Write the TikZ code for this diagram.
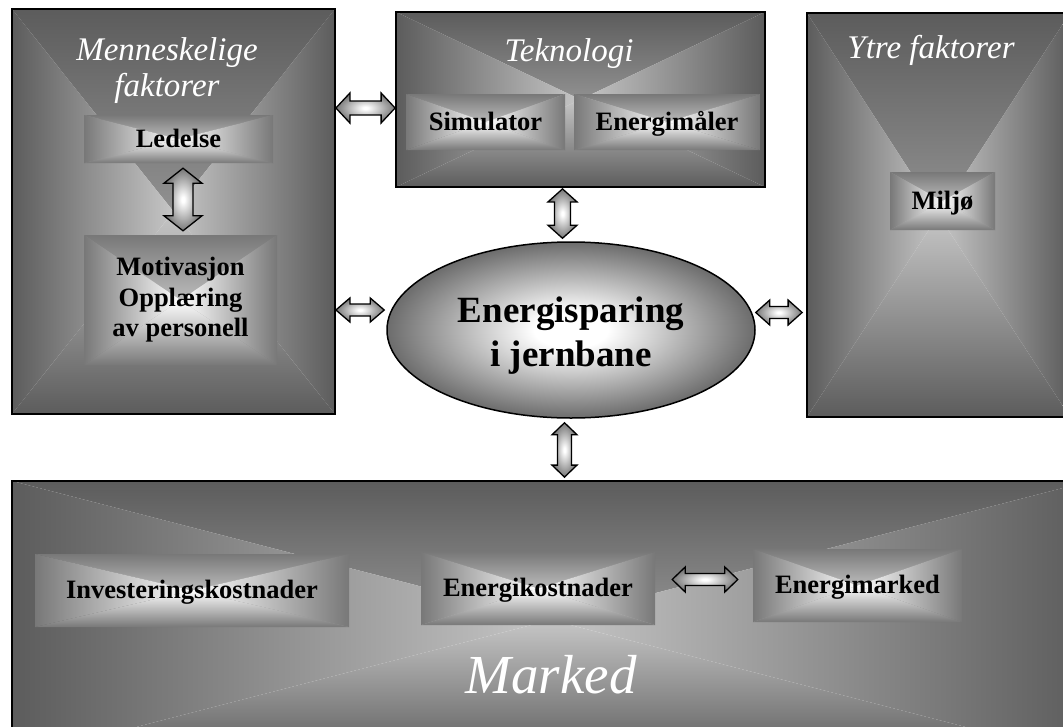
\documentclass[tikz,border=0pt]{standalone}
\usepackage{fontspec}
\setmainfont{Liberation Serif}
\usetikzlibrary{calc,shapes.geometric}

\definecolor{bigdark}{RGB}{92,92,92}
\definecolor{biglight}{RGB}{198,198,198}
\definecolor{smalldark}{RGB}{120,120,120}
\definecolor{ellgray}{RGB}{108,108,108}
\definecolor{arrowgray}{RGB}{118,118,118}

% soft radial fills for the central ellipse and the block arrows
% (the path's bounding box spans the inner 25bp radius of a shading)
\pgfdeclareradialshading{ellshade}{\pgfpoint{0bp}{0bp}}{color(0bp)=(white); color(5bp)=(white); color(25bp)=(ellgray); color(50bp)=(ellgray)}
\pgfdeclareradialshading{arrowshade}{\pgfpoint{0bp}{0bp}}{color(0bp)=(white); color(2bp)=(white); color(25bp)=(arrowgray); color(50bp)=(arrowgray)}

% two-headed block arrow from #1 to #2:
% #3 head length, #4 half width of the heads, #5 half width of the shaft
\newcommand{\dblarrow}[5]{%
  \path[arrowbody] (#1)
    -- ($(#1)!#3!(#2)!#4!90:(#2)$)
    -- ($(#1)!#3!(#2)!#5!90:(#2)$)
    -- ($(#2)!#3!(#1)!#5!-90:(#1)$)
    -- ($(#2)!#3!(#1)!#4!-90:(#1)$)
    -- (#2)
    -- ($(#2)!#3!(#1)!#4!90:(#1)$)
    -- ($(#2)!#3!(#1)!#5!90:(#1)$)
    -- ($(#1)!#3!(#2)!#5!-90:(#2)$)
    -- ($(#1)!#3!(#2)!#4!-90:(#2)$)
    -- cycle;}

\tikzset{
  % rectangle filled with a gradient running from the edges to the centre
  fromcenter/.style 2 args={path picture={
    \shade[top color=#1, bottom color=#2]
      (path picture bounding box.north west) -- (path picture bounding box.north east)
      -- (path picture bounding box.center) -- cycle;
    \shade[top color=#2, bottom color=#1]
      (path picture bounding box.south west) -- (path picture bounding box.south east)
      -- (path picture bounding box.center) -- cycle;
    \shade[left color=#1, right color=#2]
      (path picture bounding box.north west) -- (path picture bounding box.south west)
      -- (path picture bounding box.center) -- cycle;
    \shade[left color=#2, right color=#1]
      (path picture bounding box.north east) -- (path picture bounding box.south east)
      -- (path picture bounding box.center) -- cycle;
  }},
  bigbox/.style={draw=black, line width=1.8pt, inner sep=0pt, fromcenter={bigdark}{biglight}},
  smallbox/.style={inner sep=0pt, fromcenter={smalldark}{white}, align=center,
    font=\bfseries\fontsize{26.5}{30.5}\selectfont},
  oneline/.style={text height=18pt, text depth=2pt},
  boxtitle/.style={text=white, inner sep=0pt, align=center, font=\itshape\fontsize{33}{36}\selectfont},
  arrowbody/.style={draw=black, line width=1.3pt, line join=miter, shade, shading=arrowshade},
}

\begin{document}
\begin{tikzpicture}[x=1pt, y=-1pt]
\clip (0,0) rectangle (1063,726);

% the four outer areas
\node[bigbox, minimum width=323pt, minimum height=405pt] (hum) at (173.5,211.5) {};
\node[bigbox, minimum width=369pt, minimum height=175pt] (tek) at (580.5,99.5) {};
\node[bigbox, minimum width=263pt, minimum height=404pt] (ytre) at (938.5,215) {};
\node[bigbox, minimum width=1078pt, minimum height=278pt] (mkt) at (551,620) {};

% area titles
\node[boxtitle] (humt) at (167,71) {Menneskelige\\faktorer};
\node[boxtitle, anchor=base] (tekt) at (569,61) {Teknologi};
\node[boxtitle, anchor=base] (ytret) at (931,58) {Ytre faktorer};
\node[boxtitle, anchor=base, font=\itshape\fontsize{55}{60}\selectfont] (mktt) at (551,693) {Marked};

% factors inside the areas
\node[smallbox, oneline, minimum width=189pt, minimum height=48pt] (led) at (178.5,139) {Ledelse};
\node[smallbox, minimum width=193pt, minimum height=130pt] (mot) at (180.5,300) {Motivasjon\\Opplæring\\av personell};
\node[smallbox, oneline, minimum width=159pt, minimum height=56pt] (sim) at (485.5,122) {Simulator};
\node[smallbox, oneline, minimum width=186pt, minimum height=56pt] (emal) at (667,122) {Energimåler};
\node[smallbox, oneline, minimum width=105pt, minimum height=58pt] (milj) at (942.5,201) {Miljø};
\node[smallbox, oneline, minimum width=314pt, minimum height=73pt] (inv) at (192,590.5) {Investeringskostnader};
\node[smallbox, oneline, minimum width=234pt, minimum height=73pt] (ekost) at (538,588.5) {Energikostnader};
\node[smallbox, oneline, minimum width=209pt, minimum height=73pt] (emkt) at (857.5,585.5) {Energimarked};

% central topic
\node[ellipse, draw=black, line width=1.5pt, shade, shading=ellshade, inner sep=0pt,
      minimum width=368pt, minimum height=176pt] (ell) at (571,330) {};
\node[align=center, inner sep=0pt, font=\bfseries\fontsize{37}{44}\selectfont]
      (ellt) at ([yshift=-6pt]ell.center) {Energisparing\\i jernbane};

% arrow end points
\path ([yshift=-8.5pt]tek.west) coordinate (a2);
\path (hum.east |- a2) coordinate (a1);
\path (led.south) ++(4.5,5) coordinate (b1);
\path (b1 |- mot.north) ++(0,-4) coordinate (b2);
\path (tek.south) ++(-18,1) coordinate (c1);
\path (c1 |- ell.north) ++(0,-3) coordinate (c2);
\path (ell.west) ++(-2,-20) coordinate (d2);
\path (hum.east |- d2) coordinate (d1);
\path (ell.east) ++(0,-17.5) coordinate (e1);
\path (ytre.west |- e1) ++(-4,0) coordinate (e2);
\path (ell.south) ++(-6.5,4) coordinate (f1);
\path (f1 |- mkt.north) ++(0,-3) coordinate (f2);
\path (ekost.east) ++(17,-9) coordinate (g1);
\path (emkt.west |- g1) ++(-15,0) coordinate (g2);

% connectors
\dblarrow{a1}{a2}{14pt}{15pt}{7pt}
\dblarrow{b1}{b2}{15pt}{19pt}{10pt}
\dblarrow{c1}{c2}{13pt}{14.5pt}{8pt}
\dblarrow{d1}{d2}{14pt}{12pt}{6pt}
\dblarrow{e1}{e2}{14pt}{12.5pt}{6pt}
\dblarrow{f1}{f2}{12pt}{12.5pt}{7pt}
\dblarrow{g1}{g2}{13pt}{12.5pt}{6pt}
\end{tikzpicture}
\end{document}
